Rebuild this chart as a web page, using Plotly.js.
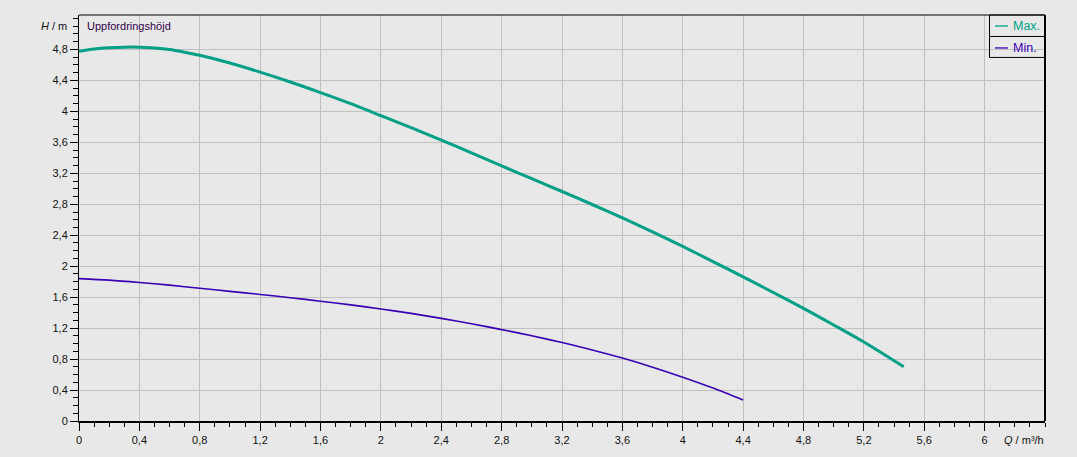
<!DOCTYPE html>
<html>
<head>
<meta charset="utf-8">
<script src="https://cdn.plot.ly/plotly-3.0.1.min.js"></script>
<style>
html,body{margin:0;padding:0;background:#e8e8e8;}
#chart{width:1077px;height:457px;}
</style>
</head>
<body>
<div id="chart"></div>
<script>
// ---- data ----
const seriesNames = ["Max.", "Min."];
const maxQ = [0, 0.1, 0.2, 0.3, 0.4, 0.5, 0.6, 0.7, 0.8, 1.0, 1.2, 1.4, 1.6, 1.8, 2.0, 2.2, 2.4, 2.6, 2.8, 3.0, 3.2, 3.4, 3.6, 3.8, 4.0, 4.2, 4.4, 4.6, 4.8, 5.0, 5.2, 5.464];
const maxH = [4.775, 4.805, 4.822, 4.83, 4.83, 4.82, 4.80, 4.765, 4.725, 4.625, 4.507, 4.38, 4.243, 4.10, 3.945, 3.79, 3.63, 3.463, 3.295, 3.13, 2.965, 2.797, 2.625, 2.443, 2.255, 2.06, 1.862, 1.66, 1.455, 1.24, 1.02, 0.70];
const minQ = [0, 0.2, 0.4, 0.6, 0.8, 1.0, 1.2, 1.4, 1.6, 1.8, 2.0, 2.2, 2.4, 2.6, 2.8, 3.0, 3.2, 3.4, 3.6, 3.8, 4.0, 4.2, 4.4];
const minH = [1.84, 1.82, 1.79, 1.755, 1.715, 1.675, 1.635, 1.593, 1.548, 1.50, 1.448, 1.39, 1.326, 1.256, 1.181, 1.101, 1.013, 0.918, 0.813, 0.695, 0.565, 0.425, 0.27];
const xTicks = [0, 0.4, 0.8, 1.2, 1.6, 2, 2.4, 2.8, 3.2, 3.6, 4, 4.4, 4.8, 5.2, 5.6, 6];
const xTickText = ["0", "0,4", "0,8", "1,2", "1,6", "2", "2,4", "2,8", "3,2", "3,6", "4", "4,4", "4,8", "5,2", "5,6", "6"];
const yTicks = [0, 0.4, 0.8, 1.2, 1.6, 2, 2.4, 2.8, 3.2, 3.6, 4, 4.4, 4.8];
const yTickText = ["0", "0,4", "0,8", "1,2", "1,6", "2", "2,4", "2,8", "3,2", "3,6", "4", "4,4", "4,8"];
const xLabel = "<i>Q</i> / m³/h";
const yLabel = "<i>H</i> / m";
const chartLabel = "Uppfordringshöjd";

// ---- style ----
const colors = ["#00a086", "#3a00b4"];
const widths = [3, 1.6];
const FONT = "Liberation Sans, Arial, sans-serif";
const W = 1077, H = 457;
const L = 79, R = 1045, T = 14.5, B = 421;
const px = x => (x - L) / (R - L);
const py = y => (B - y) / (B - T);

const traces = [
  {x: maxQ, y: maxH, name: seriesNames[0], mode: "lines", line: {color: colors[0], width: widths[0], shape: "spline", smoothing: 0.8}, hoverinfo: "x+y"},
  {x: minQ, y: minH, name: seriesNames[1], mode: "lines", line: {color: colors[1], width: widths[1], shape: "spline", smoothing: 0.8}, hoverinfo: "x+y"}
];

const axisCommon = {
  showgrid: true, gridcolor: "#c0c0c0", gridwidth: 1,
  zeroline: false, showline: true, linecolor: "#000",
  ticks: "outside", ticklen: 8, tickwidth: 1, tickcolor: "#000",
  tickmode: "array",
  tickfont: {family: FONT, size: 11, color: "#111"},
  fixedrange: true
};

const layout = {
  width: W, height: H,
  margin: {l: L, r: W - R, t: T, b: H - B, pad: 0},
  paper_bgcolor: "#e8e8e8", plot_bgcolor: "#e8e8e8",
  showlegend: false,
  separators: ",.",
  xaxis: Object.assign({}, axisCommon, {
    range: [0, 6.4], tickvals: xTicks, ticktext: xTickText, linewidth: 2,
    minor: {dtick: 0.1, tick0: 0, ticks: "outside", ticklen: 4, tickcolor: "#000", showgrid: false}
  }),
  yaxis: Object.assign({}, axisCommon, {
    range: [0, (B - T) / 77.5], tickvals: yTicks, ticktext: yTickText, linewidth: 1,
    minor: {dtick: 0.1, tick0: 0, ticks: "outside", ticklen: 5, tickcolor: "#000", showgrid: false}
  }),
  shapes: [
    {type: "line", xref: "paper", yref: "paper", x0: 0, x1: 1, y0: 1, y1: 1, line: {color: "#000", width: 1}},
    {type: "line", xref: "paper", yref: "paper", x0: 1, x1: 1, y0: 0, y1: 1, line: {color: "#000", width: 2}},
    {type: "rect", xref: "paper", yref: "paper", x0: px(989.5), x1: 1, y0: py(57), y1: 1, line: {color: "#000", width: 1}},
    {type: "line", xref: "paper", yref: "paper", x0: px(989.5), x1: 1, y0: py(36), y1: py(36), line: {color: "#000", width: 1}},
    {type: "line", xref: "paper", yref: "paper", x0: px(995), x1: px(1008), y0: py(25.5), y1: py(25.5), line: {color: colors[0], width: 1.3}},
    {type: "line", xref: "paper", yref: "paper", x0: px(995), x1: px(1008), y0: py(47.5), y1: py(47.5), line: {color: colors[1], width: 1.3}}
  ],
  annotations: [
    {xref: "paper", yref: "paper", x: px(1011), y: py(25.5), xanchor: "left", yanchor: "middle", text: seriesNames[0], showarrow: false, font: {family: FONT, size: 12.5, color: colors[0]}},
    {xref: "paper", yref: "paper", x: px(1011), y: py(47.5), xanchor: "left", yanchor: "middle", text: seriesNames[1], showarrow: false, font: {family: FONT, size: 12.5, color: colors[1]}},
    {xref: "paper", yref: "paper", x: px(85), y: py(26), xanchor: "left", yanchor: "middle", text: chartLabel, showarrow: false, font: {family: FONT, size: 11, color: "#33004d"}},
    {xref: "paper", yref: "paper", x: px(69), y: py(26), xanchor: "right", yanchor: "middle", text: yLabel, showarrow: false, font: {family: FONT, size: 11, color: "#111"}},
    {xref: "paper", yref: "paper", x: px(1046), y: py(440), xanchor: "right", yanchor: "middle", text: xLabel, showarrow: false, font: {family: FONT, size: 11, color: "#111"}}
  ]
};

Plotly.newPlot("chart", traces, layout, {displayModeBar: false, staticPlot: true});
</script>
</body>
</html>
